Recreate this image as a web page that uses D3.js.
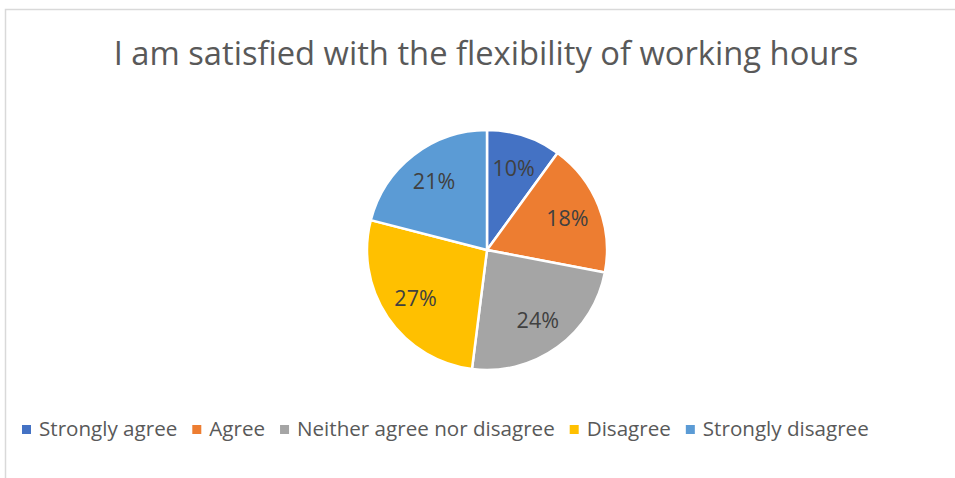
<!DOCTYPE html>
<html>
<head>
<meta charset="utf-8">
<script src="https://cdn.jsdelivr.net/npm/d3@7"></script>
<style>
  html, body { margin: 0; padding: 0; background: #fff; }
  svg { display: block; }
</style>
</head>
<body>
<svg id="chart" width="955" height="478"></svg>
<script>
// Survey responses
const title = "I am satisfied with the flexibility of working hours";
const categories = ["Strongly agree", "Agree", "Neither agree nor disagree", "Disagree", "Strongly disagree"];
const shares = [10, 18, 24, 27, 21];
const colors = ["#4472C4", "#ED7D31", "#A5A5A5", "#FFC000", "#5B9BD5"];

const W = 955, H = 478;
const svg = d3.select("#chart");
const FONT = "'Open Sans', Lato, sans-serif";

// chart frame (extends past the right and bottom edges)
svg.append("rect")
  .attr("x", 5.5).attr("y", 9.5)
  .attr("width", W + 20).attr("height", H + 20)
  .attr("fill", "#fff")
  .attr("stroke", "#d9d9d9").attr("stroke-width", 1.5);

// title, sized to span its box
const titleText = svg.append("text")
  .attr("x", 486).attr("y", 65)
  .attr("text-anchor", "middle")
  .attr("font-family", FONT)
  .attr("font-size", 30)
  .attr("fill", "#595959")
  .text(title);
const tw = titleText.node().getComputedTextLength();
titleText.attr("font-size", 30 * 745 / tw);

// pie
const cx = 487, cy = 250, R = 120;
const pie = d3.pie().sort(null).value(d => d.v);
const arcs = pie(shares.map((v, i) => ({ v, name: categories[i], color: colors[i] })));
const arc = d3.arc().innerRadius(0).outerRadius(R);
const labelArc = d3.arc().innerRadius(R * 0.72).outerRadius(R * 0.72);

const g = svg.append("g").attr("transform", `translate(${cx},${cy})`);
g.selectAll("path.slice")
  .data(arcs)
  .join("path")
  .attr("class", "slice")
  .attr("d", arc)
  .attr("fill", d => d.data.color)
  .attr("stroke", "#fff")
  .attr("stroke-width", 2.5)
  .attr("stroke-linejoin", "round");

g.selectAll("text.lbl")
  .data(arcs)
  .join("text")
  .attr("class", "lbl")
  .attr("transform", d => `translate(${labelArc.centroid(d)})`)
  .attr("text-anchor", "middle")
  .attr("dy", "0.36em")
  .attr("font-family", FONT)
  .attr("font-size", 21.5)
  .attr("fill", "#404040")
  .text(d => d.data.v + "%");

// legend, laid out left to right and sized to its row width
const legend = svg.append("g").attr("transform", "translate(22,436)");
const items = categories.map((name, i) => {
  const rect = legend.append("rect")
    .attr("y", -11)
    .attr("width", 9).attr("height", 9)
    .attr("fill", colors[i]);
  const text = legend.append("text")
    .attr("y", 0)
    .attr("font-family", FONT)
    .attr("font-size", 20)
    .attr("fill", "#595959")
    .text(name);
  return { rect, text };
});
const gapsTotal = categories.length * 17 + (categories.length - 1) * 15;
const textTotal = d3.sum(items, d => d.text.node().getComputedTextLength());
const fs = 20 * (847 - gapsTotal) / textTotal;
let x = 0;
items.forEach(({ rect, text }) => {
  text.attr("font-size", fs);
  rect.attr("x", x);
  text.attr("x", x + 17);
  x += 17 + text.node().getComputedTextLength() + 15;
});
</script>
</body>
</html>
